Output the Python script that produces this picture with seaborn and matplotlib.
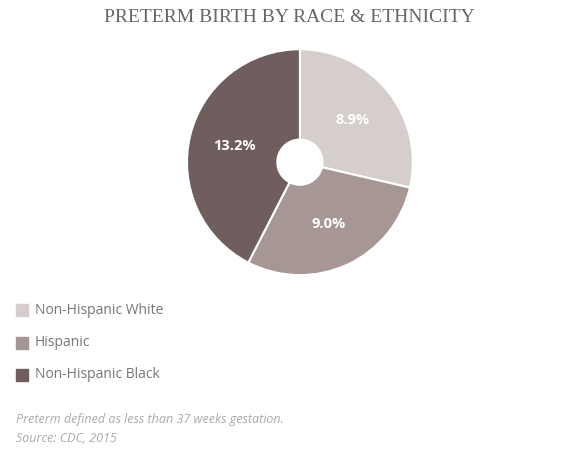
import matplotlib
matplotlib.use("Agg")
import matplotlib.pyplot as plt
import seaborn as sns
import numpy as np
from matplotlib.patches import Rectangle

sns.set_theme(style="white")
plt.rcParams['font.family'] = ['Open Sans', 'DejaVu Sans']

categories = ["Non-Hispanic White", "Hispanic", "Non-Hispanic Black"]
values = [8.9, 9.0, 13.2]
labels = ["8.9%", "9.0%", "13.2%"]
colors = ["#d6cecd", "#a69795", "#6f5e5d"]

fig = plt.figure(figsize=(5.79, 4.62), dpi=100)
fig.text(0.5, 1 - 18 / 462, "PRETERM BIRTH BY RACE & ETHNICITY", ha="center", va="center",
         fontsize=14, color="#666666", family=["Liberation Serif", "DejaVu Serif"])

ax = fig.add_axes([0.518 - 0.197, 0.649 - 0.247, 0.394, 0.494])
wedges, texts = ax.pie(values, colors=colors, startangle=90, counterclock=False,
                       wedgeprops=dict(width=0.8, edgecolor="white", linewidth=1.5))
ax.set_xlim(-1.01, 1.01)
ax.set_ylim(-1.01, 1.01)
ax.set_aspect("equal")
for w, lab in zip(wedges, labels):
    ang = np.deg2rad((w.theta1 + w.theta2) / 2)
    ax.text(0.6 * np.cos(ang), 0.6 * np.sin(ang), lab, ha="center", va="center",
            color="white", fontsize=10.5, fontweight="bold")

H = 462
for i, (cat, c) in enumerate(zip(categories, colors)):
    y = 310 + i * 32.5
    fig.patches.append(Rectangle((16 / 579, 1 - (y + 6) / H), 12 / 579, 12 / H,
                                 transform=fig.transFigure, color=c))
    fig.text(35 / 579, 1 - y / H, cat, va="center", fontsize=10, color="#777777")

fig.text(16 / 579, 1 - 420 / H, "Preterm defined as less than 37 weeks gestation.",
         va="center", fontsize=9, color="#aaaaaa", style="italic")
fig.text(16 / 579, 1 - 438 / H, "Source: CDC, 2015",
         va="center", fontsize=9, color="#aaaaaa", style="italic")

fig.savefig("out.png", dpi=100, facecolor="white")
